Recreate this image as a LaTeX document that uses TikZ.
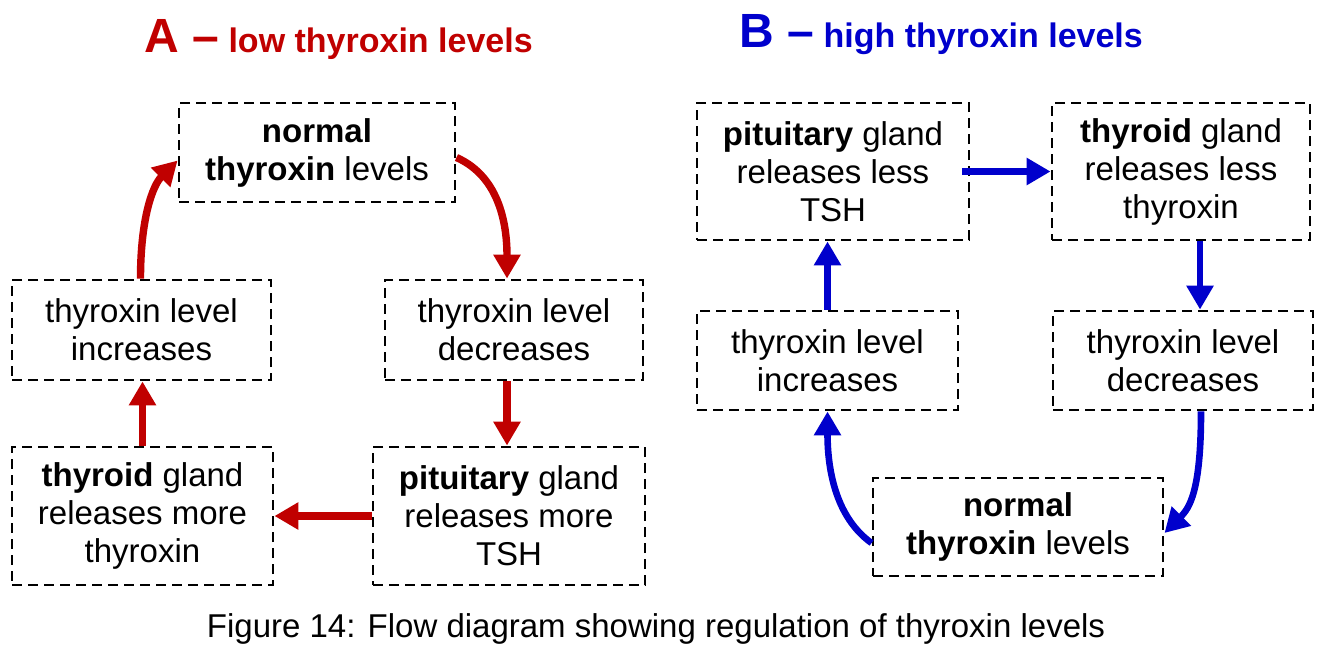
\documentclass[tikz,border=0pt]{standalone}
\usepackage{fontspec}
\setmainfont{Liberation Sans}
\usepackage{tikz}
\usetikzlibrary{arrows.meta}

\definecolor{lowred}{RGB}{192,0,0}
\definecolor{highblue}{RGB}{0,0,204}
\newcommand{\boxfont}{\fontsize{16.5}{19}\selectfont}

\begin{document}
\begin{tikzpicture}[
            x=0.5pt, y=-0.5pt,
            box/.style={draw, line width=1.45pt, dash pattern=on 4.8pt off 3.2pt,
                        align=center, inner sep=0pt, font=\boxfont},
            redarr/.style={draw=lowred, line width=3.7pt,
                           -{Triangle[length=12pt,width=13pt]}},
            bluearr/.style={draw=highblue, line width=3.3pt,
                            -{Triangle[length=12pt,width=13pt]}},
            ttl/.style={anchor=base west, inner sep=0pt, font=\fontsize{17}{20}\selectfont\bfseries}
        ]
        \useasboundingbox (0,0) rectangle (1325,649);

        % Titles
        \node[ttl, text=lowred] (Attl) at (144,52)
            {{\fontsize{24}{24}\selectfont A –} low thyroxin levels};
        \node[ttl, text=highblue] (Bttl) at (739,47)
            {{\fontsize{24}{24}\selectfont B –} high thyroxin levels};

        % A: low thyroxin levels
        \node[box, minimum width=138pt, minimum height=49.5pt] (An) at (317,152.5)
            {\textbf{normal}\\\textbf{thyroxin} levels};
        \node[box, minimum width=129.5pt, minimum height=50pt] (Ainc) at (141.5,330)
            {thyroxin level\\increases};
        \node[box, minimum width=129pt, minimum height=50pt] (Adec) at (514,330)
            {thyroxin level\\decreases};
        \node[box, minimum width=130.5pt, minimum height=69pt] (Athy) at (142.5,516)
            {\textbf{thyroid} gland\\releases more\\thyroxin};
        \node[box, minimum width=136pt, minimum height=69pt] (Apit) at (509,516)
            {\textbf{pituitary} gland\\releases more\\TSH};

        % B: high thyroxin levels
        \node[box, minimum width=136pt, minimum height=68.5pt] (Bpit) at (833,171.5)
            {\textbf{pituitary} gland\\releases less\\TSH};
        \node[box, minimum width=129pt, minimum height=68.5pt] (Bthy) at (1181,171.5)
            {\textbf{thyroid} gland\\releases less\\thyroxin};
        \node[box, minimum width=130.5pt, minimum height=49.5pt] (Binc) at (827.5,360.5)
            {thyroxin level\\increases};
        \node[box, minimum width=130pt, minimum height=49.5pt] (Bdec) at (1183,360.5)
            {thyroxin level\\decreases};
        \node[box, minimum width=145pt, minimum height=49pt] (Bn) at (1018,527)
            {\textbf{normal}\\\textbf{thyroxin} levels};

        % A connections
        \draw[redarr] ([yshift=-2.5pt]An.east) .. controls +(45,20) and +(0,-50) .. ([xshift=-3.5pt]Adec.north);
        \draw[redarr] ([xshift=-3.5pt]Adec.south) -- ([xshift=-3.5pt]Adec.south |- Apit.north);
        \draw[redarr] (Apit.west) -- (Athy.east);
        \draw[redarr] (Athy.north) -- (Athy.north |- Ainc.south);
        \draw[redarr] ([xshift=-0.5pt]Ainc.north) .. controls +(0,-60) and +(-25,25) .. ([yshift=-4pt]An.west);

        % B connections
        \draw[bluearr] ([xshift=-4pt]Bpit.east) -- (Bthy.west);
        \draw[bluearr] ([xshift=9.5pt]Bthy.south) -- ([xshift=9.5pt]Bthy.south |- Bdec.north);
        \draw[bluearr] ([xshift=9pt]Bdec.south) .. controls +(0,80) and +(25,-25) .. ([yshift=-3pt]Bn.east);
        \draw[bluearr] ([yshift=-8pt]Bn.west) .. controls +(-35,-25) and +(0,60) .. (Binc.south);
        \draw[bluearr] (Binc.north) -- (Binc.north |- Bpit.south);

        % Caption
        \node[anchor=base, inner sep=0pt, font=\boxfont] (cap) at (656,637)
            {Figure 14: Flow diagram showing regulation of thyroxin levels};
\end{tikzpicture}
\end{document}
